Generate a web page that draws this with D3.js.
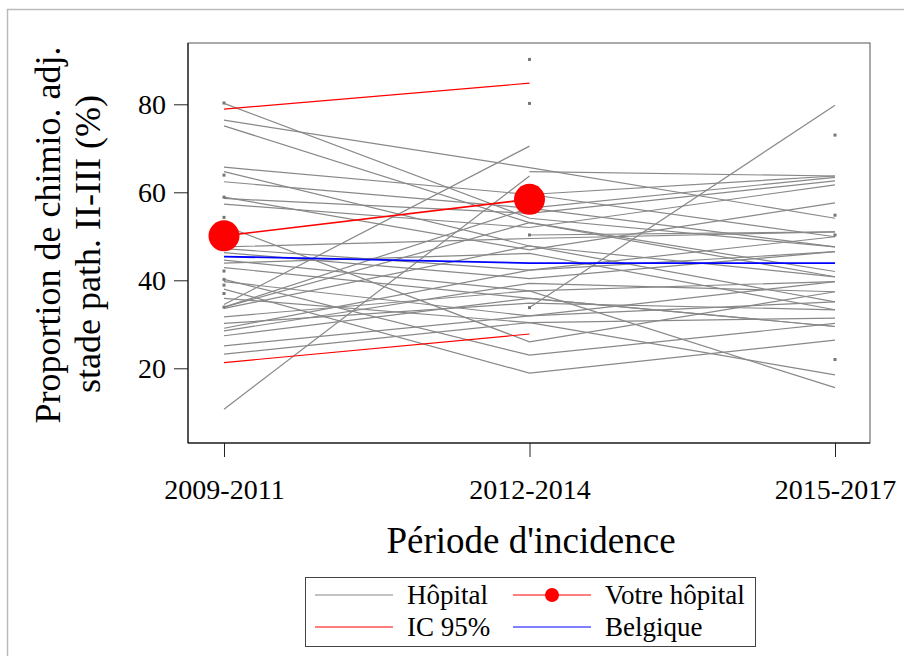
<!DOCTYPE html>
<html><head><meta charset="utf-8">
<script src="https://cdn.jsdelivr.net/npm/d3@7"></script>
<style>body{margin:0;background:#fff}svg{display:block;font-family:"Liberation Serif","Times New Roman",serif}</style>
</head><body>
<svg id="c" width="904" height="656"></svg>
<script>
const periods = ["2009-2011", "2012-2014", "2015-2017"];
const yTicks = [20, 40, 60, 80];
// hospital trajectories (null = missing)
const hospitals = [
  [80.2, 54.1, 47.6],
  [76.4, 65.6, 54.1],
  [75.1, 53.1, 42.0],
  [65.7, 59.5, 63.7],
  [64.7, 47.8, 40.8],
  [62.4, 56.4, 63.4],
  [58.6, 55.2, 62.6],
  [58.9, 46.9, 57.6],
  [57.3, 52.0, 61.7],
  [52.4, 26.0, 37.4],
  [47.6, 49.5, 51.0],
  [47.2, 42.3, 49.9],
  [46.3, 40.4, 46.5],
  [44.6, 37.6, 39.7],
  [43.9, 46.1, 33.3],
  [42.9, 35.9, 29.5],
  [40.2, 23.0, 30.2],
  [33.9, 56.4, 47.6],
  [33.9, 53.1, 40.8],
  [33.6, 47.8, 35.1],
  [39.7, 31.9, 39.7],
  [38.0, 18.9, 26.4],
  [35.9, 30.4, 31.4],
  [31.7, 37.6, 15.6],
  [30.2, 34.8, 33.3],
  [29.1, 42.3, 46.5],
  [28.5, 39.3, 37.4],
  [27.4, 35.9, 29.5],
  [25.1, 31.9, 35.1],
  [23.2, 30.4, 18.5],
  [10.7, 63.7, null],
  [34.5, 70.5, null],
  [null, 64.7, 63.7],
  [null, 33.8, 79.8],
  [null, 50.3, 51.0],
  [null, 59.5, 49.9]
];
// hospitals with a single observed period
const singles09 = [80.3, 63.9, 58.9, 54.3, 42.1, 40.2, 38.9, 37.0, 33.9];
const singles12 = [90.2, 80.2, 50.3, 33.8];
const singles15 = [73.0, 54.8, 50.3, 22.0];
const votre = [50.1, 58.4, null];
const icUpper = [78.9, 84.8, null];
const icLower = [21.3, 27.8, null];
const belgique = [45.4, 43.9, 43.9];

const svg = d3.select("#c");
const x = d3.scalePoint().domain(periods).range([224, 835]);
const y = d3.scaleLinear().domain([0, 100]).range([456.3, 16.3]);
const box = {l: 188, r: 870, t: 43, b: 443};

// outer frame
svg.append("rect").attr("x", 7.5).attr("y", 9.5).attr("width", 1000).attr("height", 1000)
  .attr("fill", "none").attr("stroke", "#bbb").attr("stroke-width", 1.5);

// plot box
svg.append("rect").attr("x", box.l).attr("y", box.t).attr("width", box.r - box.l).attr("height", box.b - box.t)
  .attr("fill", "none").attr("stroke", "#555").attr("stroke-width", 1);

const line = d3.line().defined(d => d.v != null).x(d => x(d.p)).y(d => y(d.v));
const toPts = arr => arr.map((v, i) => ({p: periods[i], v}));

const g = svg.append("g");
hospitals.forEach(h => {
  g.append("path").attr("d", line(toPts(h))).attr("fill", "none").attr("stroke", "#888").attr("stroke-width", 1.2);
});
[[singles09, 0], [singles12, 1], [singles15, 2]].forEach(([arr, i]) => {
  arr.forEach(v => g.append("rect").attr("x", x(periods[i]) - 1.5).attr("y", y(v) - 1.5)
    .attr("width", 3).attr("height", 3).attr("fill", "#777"));
});
[icUpper, icLower].forEach(a => g.append("path").attr("d", line(toPts(a))).attr("fill", "none").attr("stroke", "#ff0000").attr("stroke-width", 1.2));
g.append("path").attr("d", line(toPts(belgique))).attr("fill", "none").attr("stroke", "#0000ff").attr("stroke-width", 1.8);
g.append("path").attr("d", line(toPts(votre))).attr("fill", "none").attr("stroke", "#ff0000").attr("stroke-width", 1.6);
toPts(votre).filter(d => d.v != null).forEach(d => g.append("circle").attr("cx", x(d.p)).attr("cy", y(d.v)).attr("r", 15.5).attr("fill", "#ff0000"));

// y axis
const yAx = svg.append("g").attr("transform", `translate(${box.l},0)`)
  .call(d3.axisLeft(y).tickValues(yTicks).tickSize(14).tickPadding(8).tickSizeOuter(0));
yAx.select(".domain").attr("d", `M0,${box.t}V${box.b}`).attr("stroke", "#000");
yAx.selectAll("text").attr("font-size", 28).attr("font-family", "Liberation Serif").attr("fill", "#000");
yAx.selectAll("line").attr("stroke", "#222");

// x axis
const xAx = svg.append("g").attr("transform", `translate(0,${box.b})`)
  .call(d3.axisBottom(x).tickSize(14).tickPadding(22).tickSizeOuter(0));
xAx.select(".domain").attr("d", `M${box.l},0H${box.r}`).attr("stroke", "#000");
xAx.selectAll("text").attr("font-size", 28).attr("font-family", "Liberation Serif").attr("fill", "#000");
xAx.selectAll("line").attr("stroke", "#222");

// titles
svg.append("text").attr("x", 531).attr("y", 553).attr("text-anchor", "middle")
  .attr("font-size", 37).text("Période d'incidence");
svg.append("text").attr("transform", "translate(60,235) rotate(-90)").attr("text-anchor", "middle")
  .attr("font-size", 36).text("Proportion de chimio. adj.");
svg.append("text").attr("transform", "translate(100,244) rotate(-90)").attr("text-anchor", "middle")
  .attr("font-size", 36).text("stade path. II-III (%)");

// legend
const lg = svg.append("g");
lg.append("rect").attr("x", 305.5).attr("y", 577.5).attr("width", 450).attr("height", 69)
  .attr("fill", "#fff").attr("stroke", "#444").attr("stroke-width", 1);
const items = [
  {t: "Hôpital", c: "#888", x: 315, y: 595, dot: false},
  {t: "Votre hôpital", c: "#ff0000", x: 513, y: 595, dot: true},
  {t: "IC 95%", c: "#ff0000", x: 315, y: 627, dot: false},
  {t: "Belgique", c: "#0000ff", x: 513, y: 627, dot: false}
];
items.forEach(it => {
  lg.append("line").attr("x1", it.x).attr("x2", it.x + 78).attr("y1", it.y).attr("y2", it.y)
    .attr("stroke", it.c).attr("stroke-width", 1.2);
  if (it.dot) lg.append("circle").attr("cx", it.x + 39).attr("cy", it.y).attr("r", 7).attr("fill", "#ff0000");
  lg.append("text").attr("x", it.x + 92).attr("y", it.y + 9).attr("font-size", 27).text(it.t);
});
</script>
</body></html>
